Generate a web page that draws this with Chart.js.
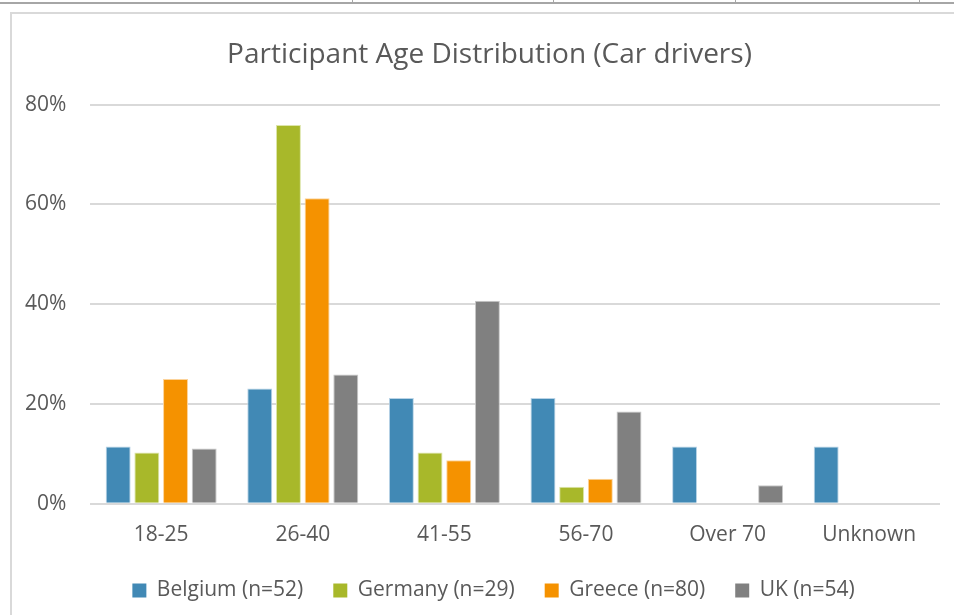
<!DOCTYPE html>
<html>
<head>
<meta charset="utf-8">
<script src="https://cdn.jsdelivr.net/npm/chart.js@4"></script>
<style>
  html, body { margin: 0; padding: 0; background: #fff; }
  body { width: 954px; height: 615px; position: relative; overflow: hidden; }
  .topline { position: absolute; left: 0; top: 2px; width: 954px; height: 2px; background: #a6a6a6; }
  .tick { position: absolute; top: 0; width: 1px; height: 4px; background: #a6a6a6; }
  .frame { position: absolute; left: 10px; top: 12px; width: 960px; height: 620px;
           border-left: 2px solid #d9d9d9; border-top: 2px solid #d9d9d9; box-sizing: border-box; }
  #wrap { position: absolute; left: 0; top: 0; width: 954px; height: 615px; }
</style>
</head>
<body>
<div class="topline"></div>
<div class="tick" style="left:352px"></div>
<div class="tick" style="left:553px"></div>
<div class="tick" style="left:735px"></div>
<div class="tick" style="left:919px"></div>
<div class="frame"></div>
<div id="wrap"><canvas id="ageChart"></canvas></div>
<script>
const ageGroups = ['18-25', '26-40', '41-55', '56-70', 'Over 70', 'Unknown'];
const belgium = [11.5, 23.1, 21.2, 21.2, 11.5, 11.5];
const germany = [10.3, 75.9, 10.3, 3.4, 0, 0];
const greece = [25.0, 61.25, 8.75, 5.0, 0, 0];
const uk = [11.1, 25.9, 40.7, 18.5, 3.7, 0];
const yTicks = [0, 20, 40, 60, 80];

const textColor = '#595959';
const fontFamily = "'Open Sans', 'Noto Sans', sans-serif";

function makeSet(label, data, color, edge) {
  return {
    label,
    data,
    backgroundColor: color,
    borderColor: edge,
    borderWidth: 1,
    barPercentage: 0.87,
    categoryPercentage: 0.81
  };
}

// the original frame runs past the right edge, so title and legend sit a bit right of centre;
// the legend also sits closer to the axis labels than Chart.js puts it
const nudge = {
  id: 'nudge',
  afterLayout(chart) {
    const lg = chart.legend;
    if (lg) {
      lg.top -= 9;
      lg.bottom -= 9;
      lg.left += 23;
      lg.right += 23;
    }
    const tb = chart.titleBlock;
    if (tb) {
      tb.left += 19;
      tb.right += 19;
    }
  }
};

const ctx = document.getElementById('ageChart').getContext('2d');
new Chart(ctx, {
  type: 'bar',
  data: {
    labels: ageGroups,
    datasets: [
      makeSet('Belgium (n=52)', belgium, '#4189b5', '#b9d3e6'),
      makeSet('Germany (n=29)', germany, '#a8b82a', '#dde5aa'),
      makeSet('Greece (n=80)', greece, '#f59200', '#fcd39a'),
      makeSet('UK (n=54)', uk, '#808080', '#c8c8c8')
    ]
  },
  plugins: [nudge],
  options: {
    responsive: true,
    maintainAspectRatio: false,
    animation: false,
    layout: { padding: { left: 1, right: 14, top: 14, bottom: -5 } },
    scales: {
      x: {
        grid: { display: false },
        border: { display: false },
        ticks: { color: textColor, font: { family: fontFamily, size: 21 }, padding: 11 }
      },
      y: {
        min: 0,
        max: 80,
        afterBuildTicks: axis => { axis.ticks = yTicks.map(v => ({ value: v })); },
        grid: { color: '#d9d9d9', lineWidth: 2, drawTicks: false },
        border: { display: false },
        ticks: {
          color: textColor,
          font: { family: fontFamily, size: 21 },
          padding: 24,
          callback: v => v + '%'
        }
      }
    },
    plugins: {
      title: {
        display: true,
        text: 'Participant Age Distribution (Car drivers)',
        color: textColor,
        font: { family: fontFamily, size: 28, weight: 'normal' },
        padding: { top: 24, bottom: 33 }
      },
      legend: {
        position: 'bottom',
        labels: {
          color: textColor,
          font: { family: fontFamily, size: 21 },
          boxWidth: 14,
          boxHeight: 14,
          padding: 30,
          generateLabels: chart => chart.data.datasets.map((ds, i) => ({
            text: ds.label,
            fillStyle: ds.backgroundColor,
            strokeStyle: ds.backgroundColor,
            lineWidth: 0,
            fontColor: textColor,
            datasetIndex: i
          }))
        }
      },
      tooltip: { enabled: false }
    }
  }
});
</script>
</body>
</html>
